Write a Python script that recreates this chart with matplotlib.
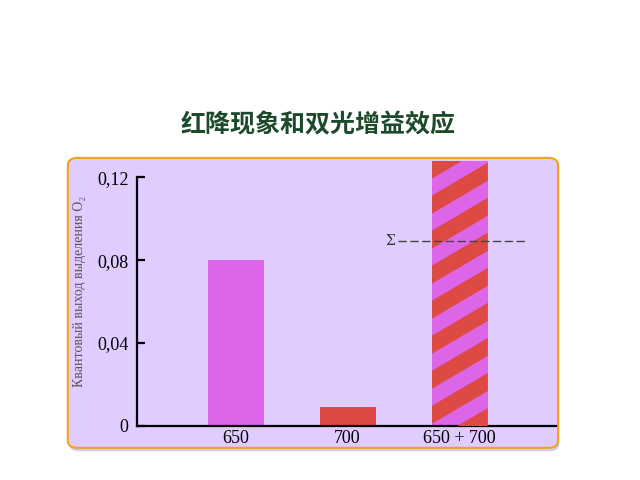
import matplotlib
matplotlib.use('Agg')
import matplotlib.pyplot as plt
from matplotlib.patches import FancyBboxPatch, Polygon

# data
categories = ['650', '700', '650 + 700']
values = [0.080, 0.009, 0.128]
bar_colors = ['#DD66E8', '#DD4A44', '#DD66E8']
yticks = [0, 0.04, 0.08, 0.12]
ytick_labels = ['0', '0,04', '0,08', '0,12']
title = '红降现象和双光增益效应'
ylabel = 'Квантовый выход выделения O₂'

fig = plt.figure(figsize=(6.4, 4.8), dpi=100)
fig.patch.set_facecolor('white')

# lavender panel with orange rounded border and a faint shadow
shadow = FancyBboxPatch((0.108, 0.060), 0.766, 0.605, boxstyle='round,pad=0,rounding_size=0.015',
                        transform=fig.transFigure, facecolor='#9C8CF2', edgecolor='none',
                        alpha=0.45, zorder=-6)
panel = FancyBboxPatch((0.106, 0.067), 0.766, 0.604, boxstyle='round,pad=0,rounding_size=0.015',
                       transform=fig.transFigure, facecolor='#E0CCFF', edgecolor='#F5A21B',
                       linewidth=1.5, zorder=-5)
fig.patches.extend([shadow, panel])

fig.text(0.497, 0.74, title, ha='center', va='center', fontsize=18, fontweight='bold',
         color='#1E4A2C', family=['Noto Sans CJK SC', 'DejaVu Sans'])

ax = fig.add_axes([0.214, 0.1125, 0.655, 0.5615])
ax.set_facecolor('none')

x = list(range(len(categories)))
bw = 0.5
bars = ax.bar(x, values, width=bw, color=bar_colors, zorder=2)

# diagonal red stripes on the combined bar
comb = bars[2]
period = 0.0169
thick = 0.0087
rise = 0.0159
x0 = x[2] - bw / 2
x1 = x[2] + bw / 2
y = -rise
while y < values[2]:
    stripe = Polygon([(x0, y), (x1, y + rise), (x1, y + rise + thick), (x0, y + thick)],
                     closed=True, facecolor='#DD4A44', edgecolor='none', zorder=3)
    ax.add_patch(stripe)
    stripe.set_clip_path(comb)
    y += period

# sum marker
total = values[0] + values[1]
ax.plot([1.45, 2.60], [total, total], ls=(0, (6, 2.5)), color='#444444', lw=1.0, zorder=4)
ax.text(1.38, total, 'Σ', ha='center', va='center', fontsize=10, color='#333333',
        family='DejaVu Serif', zorder=4)

ax.set_xlim(-0.88, 2.86)
ax.set_ylim(0, 0.13)

for s in ['top', 'right']:
    ax.spines[s].set_visible(False)
ax.spines['left'].set_bounds(0, 0.12)
ax.spines['left'].set_linewidth(1.6)
ax.spines['bottom'].set_linewidth(1.6)

ax.set_yticks(yticks)
ax.set_yticklabels(ytick_labels, family='Liberation Serif', fontsize=13)
ax.tick_params(axis='y', direction='in', length=6, width=1.6, pad=6)
ax.set_xticks(x)
ax.set_xticklabels(categories, family='Liberation Serif', fontsize=13)
ax.tick_params(axis='x', length=0, pad=3)

ax.set_ylabel(ylabel, family='Liberation Serif', fontsize=10, color='#555555', labelpad=8)

fig.savefig('out.png', dpi=100)
